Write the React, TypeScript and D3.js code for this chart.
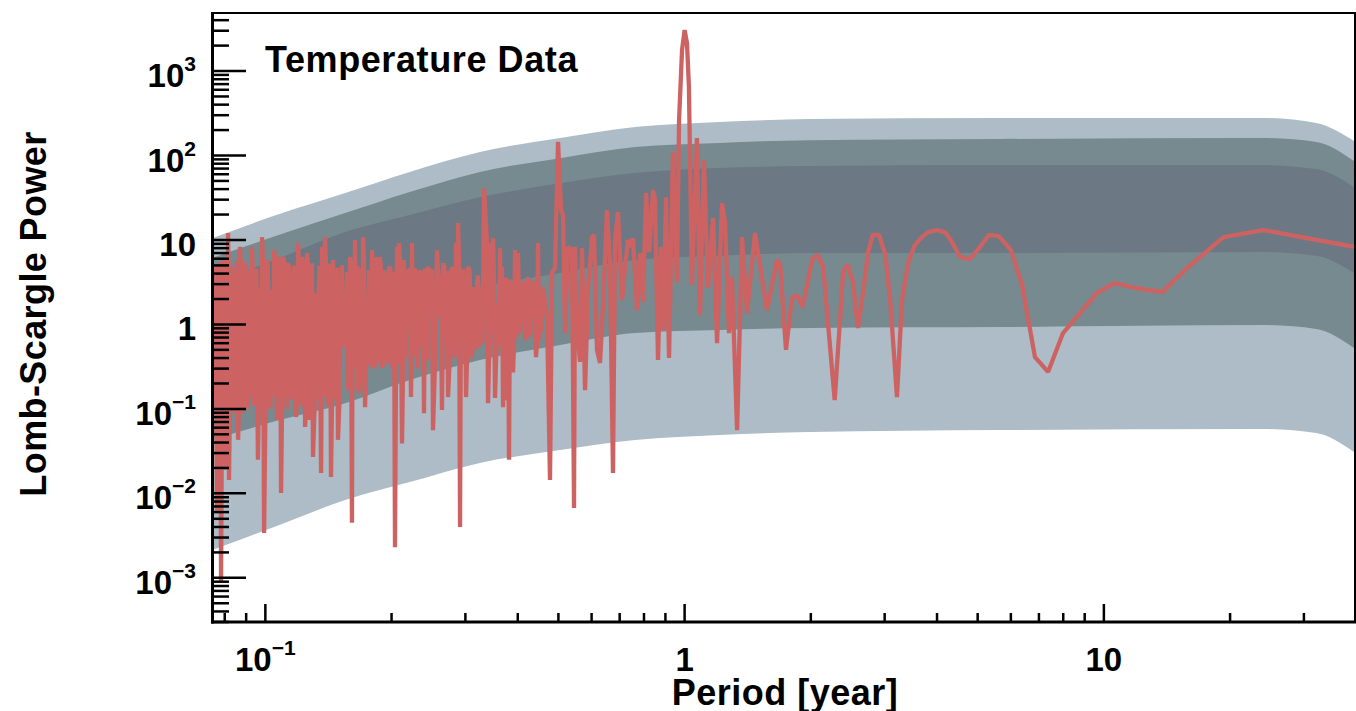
import React from 'react';
import * as d3 from 'd3';

// confidence bands of the simulated periodograms (period in years -> power)
const bandPeriods = [0.0746, 0.108, 0.155, 0.221, 0.325, 0.505, 0.762, 1.21, 1.99, 5.65, 23.9, 32.1, 39.5];
const outerUpper = [10.5, 20.3, 36, 64, 110, 161, 217, 249, 270, 278, 278, 243, 149];
const middleUpper = [6.1, 11.5, 20.8, 37, 64, 93, 126, 141, 152, 157, 161, 145, 86];
const innerUpper = [3.1, 6.1, 12.4, 19.7, 32, 47, 62, 71, 75, 77, 77, 69, 42];
const innerLower = [0.266, 0.526, 0.98, 1.7, 2.77, 4.06, 5.8, 6.5, 7.0, 7.0, 7.2, 6.5, 4.06];
const middleLower = [0.0428, 0.0738, 0.117, 0.22, 0.379, 0.57, 0.791, 0.859, 0.908, 0.931, 0.984, 0.883, 0.526];
const outerLower = [0.00213, 0.00422, 0.00834, 0.0136, 0.0229, 0.0326, 0.0428, 0.0491, 0.0532, 0.0562, 0.0578, 0.0518, 0.0308];

// measured periodogram: [period (year), Lomb-Scargle power]
const spectrum: [number, number][] = [
  [0.0746, 2.36], [0.075, 0.12], [0.0754, 2.55], [0.076, 5.1], [0.0767, 0.0059], [0.0771, 4.6],
  [0.0775, 0.54], [0.078, 5.4], [0.0784, 0.00089], [0.0788, 0.1], [0.0793, 5.8], [0.08, 4.8],
  [0.0806, 0.019], [0.081, 0.14], [0.0815, 12.1], [0.0817, 5.2], [0.0819, 0.0144], [0.0823, 0.11],
  [0.0828, 3.36], [0.0832, 4.9], [0.0837, 0.22], [0.0844, 0.09], [0.0851, 3.36], [0.0856, 5.6],
  [0.0861, 0.043], [0.0865, 0.13], [0.087, 8.3], [0.0875, 4.7], [0.088, 0.089], [0.0885, 0.12],
  [0.089, 5.3], [0.0897, 5.0], [0.0904, 0.31], [0.0909, 0.1], [0.0914, 4.4], [0.0921, 0.14],
  [0.0929, 8.3], [0.0932, 5.3], [0.0935, 0.31], [0.094, 0.11], [0.0945, 2.77], [0.0952, 4.6],
  [0.096, 0.025], [0.0965, 0.13], [0.0971, 2.77], [0.0976, 0.1], [0.0982, 10.8], [0.0987, 5.1],
  [0.0993, 0.0034], [0.1001, 0.12], [0.1009, 5.8], [0.1014, 4.8], [0.102, 0.46], [0.1028, 0.1],
  [0.1037, 2.55], [0.1043, 0.14], [0.1049, 7.6], [0.1057, 5.2], [0.1066, 0.074], [0.1072, 0.12],
  [0.1078, 6.3], [0.1084, 4.9], [0.109, 0.0101], [0.1096, 0.11], [0.1102, 6.3], [0.1111, 5.4],
  [0.112, 0.22], [0.1126, 0.1], [0.1132, 5.3], [0.1141, 4.7], [0.1151, 0.31], [0.1157, 0.13],
  [0.1164, 2.77], [0.1173, 5.0], [0.1183, 0.08], [0.119, 0.12], [0.1197, 9.2], [0.1203, 4.6],
  [0.121, 0.79], [0.1217, 0.11], [0.1224, 6.3], [0.1234, 5.1], [0.1244, 0.061], [0.1251, 0.14],
  [0.1258, 7.0], [0.1264, 4.8], [0.1271, 0.074], [0.1278, 0.12], [0.1285, 2.36], [0.1292, 5.3],
  [0.1299, 0.027], [0.131, 0.1], [0.1321, 2.36], [0.1328, 0.13], [0.1335, 1.61], [0.1346, 4.9],
  [0.1358, 0.0174], [0.1361, 0.12], [0.1365, 8.3], [0.1376, 0.14], [0.1388, 10.8], [0.1395, 5.0],
  [0.1403, 0.5], [0.1411, 0.11], [0.1419, 4.8], [0.1426, 5.2], [0.1434, 0.0156], [0.1442, 0.12],
  [0.145, 5.8], [0.1462, 0.13], [0.1474, 1.13], [0.1482, 4.7], [0.149, 0.043], [0.1502, 0.12],
  [0.1515, 2.55], [0.1523, 5.0], [0.1532, 0.54],
  [0.1558, 1.04], [0.1566, 4.2], [0.1575, 0.167], [0.1583, 0.3], [0.1592, 6.3], [0.16, 4.8],
  [0.1609, 0.0045], [0.1613, 0.35], [0.1618, 1.79], [0.1627, 0.4], [0.1636, 10.0], [0.1645, 0.3],
  [0.1654, 4.4], [0.1658, 5.0], [0.1663, 0.167], [0.1672, 4.6], [0.1682, 0.154], [0.1691, 0.35],
  [0.17, 4.4], [0.1705, 0.4], [0.171, 10.8], [0.1719, 5.2], [0.1729, 0.105], [0.1738, 0.3],
  [0.1748, 1.79], [0.1757, 0.38], [0.1767, 4.4], [0.1782, 0.32], [0.1797, 7.6], [0.1802, 4.5],
  [0.1807, 0.54], [0.1822, 0.3], [0.1837, 6.3], [0.1847, 0.42], [0.1857, 2.11], [0.1867, 0.36],
  [0.1877, 6.3], [0.1887, 4.4], [0.1898, 0.31], [0.1908, 0.33], [0.1919, 4.4], [0.1934, 0.4],
  [0.195, 4.1], [0.1961, 0.35], [0.1972, 4.8], [0.1988, 4.6], [0.2005, 0.71], [0.201, 0.3],
  [0.2016, 3.64], [0.2027, 4.2], [0.2038, 0.0023], [0.205, 0.38], [0.2061, 8.3], [0.2072, 0.34],
  [0.2083, 9.2], [0.21, 5.0], [0.2118, 0.039], [0.213, 0.3], [0.2141, 5.8], [0.2159, 0.4],
  [0.2177, 4.4], [0.2189, 4.3], [0.2201, 1.04], [0.2213, 4.7], [0.2225, 0.138], [0.2231, 0.36],
  [0.2238, 9.2], [0.225, 0.42], [0.2262, 4.4], [0.2281, 4.5], [0.23, 0.86], [0.2312, 0.3],
  [0.2325, 3.36], [0.2344, 4.4], [0.2364, 0.54], [0.2377, 4.1], [0.239, 0.089], [0.2403, 4.6],
  [0.2416, 1.04], [0.243, 0.38], [0.2443, 4.8], [0.2463, 4.2], [0.2484, 1.48], [0.2497, 4.5],
  [0.2511, 0.056], [0.2539, 0.34], [0.2567, 7.6], [0.2581, 4.4], [0.2596, 1.22], [0.2617, 4.0],
  [0.2638, 0.097], [0.2645, 0.4], [0.2653, 5.3], [0.2675, 4.6], [0.2698, 0.65], [0.2712, 4.3],
  [0.2727, 0.138], [0.275, 0.35], [0.2773, 4.1], [0.2788, 4.8], [0.2803, 1.22], [0.2826, 0.4],
  [0.285, 9.2], [0.2866, 0.45], [0.2882, 15.9], [0.2897, 5.0], [0.2913, 0.004], [0.2929, 4.2],
  [0.2945, 0.86], [0.2961, 4.5], [0.2978, 0.6], [0.2994, 4.0], [0.301, 0.138], [0.3027, 0.38],
  [0.3044, 4.8], [0.3069, 4.4], [0.3094, 1.22], [0.3111, 0.4], [0.3128, 2.77],
  [0.3163, 1.36], [0.318, 0.5], [0.3198, 3.18], [0.3215, 3.8], [0.3233, 0.65], [0.325, 0.55],
  [0.3268, 2.77], [0.3295, 0.6], [0.3323, 41], [0.3378, 9.2], [0.3397, 0.117], [0.3425, 0.7],
  [0.3453, 9.2], [0.3472, 0.8], [0.3492, 10.5], [0.3511, 3.5], [0.353, 0.135], [0.356, 0.6],
  [0.3589, 1.79], [0.3609, 0.55], [0.3629, 8.0], [0.3649, 0.7], [0.3669, 4.8], [0.3689, 0.105],
  [0.3709, 3.2], [0.3729, 1.13], [0.375, 3.6], [0.377, 0.127], [0.3791, 2.8], [0.3812, 0.025],
  [0.3833, 3.4], [0.3854, 0.93], [0.3876, 3.0], [0.3897, 0.27], [0.3918, 0.6], [0.394, 7.6],
  [0.3973, 0.7], [0.4006, 7.0], [0.4039, 0.8], [0.4072, 1.95], [0.4118, 3.2], [0.4163, 0.65],
  [0.4198, 2.9], [0.4232, 3.64], [0.4279, 0.7], [0.4325, 3.36], [0.4349, 2.11], [0.4385, 3.1],
  [0.4421, 0.41], [0.4446, 0.6], [0.447, 9.2], [0.4495, 0.65], [0.4519, 2.11], [0.4557, 0.8],
  [0.4595, 2.77],
  [0.4697, 1.22], [0.4775, 0.0144], [0.4828, 4.1], [0.4908, 4.7], [0.499, 145], [0.5073, 22.6],
  [0.5129, 19.7], [0.5186, 0.79], [0.5271, 8.3], [0.5389, 7.6], [0.5448, 0.0067], [0.5478, 8.3],
  [0.5539, 0.93], [0.563, 0.36], [0.5692, 8.0], [0.5787, 0.167], [0.5883, 2.55], [0.6014, 10.8],
  [0.608, 11.5], [0.618, 0.5], [0.6283, 0.35], [0.6387, 1.61], [0.6529, 22.6], [0.6638, 5.3],
  [0.6748, 0.0174], [0.6823, 10.0], [0.6937, 21.4], [0.7091, 1.95], [0.7208, 4.8], [0.7328, 10.0],
  [0.741, 8.3], [0.753, 10.5], [0.77, 1.48], [0.783, 7.0], [0.796, 1.84], [0.809, 36],
  [0.823, 7.2], [0.841, 39], [0.85, 29.7], [0.864, 0.38], [0.878, 8.3], [0.888, 0.86],
  [0.903, 32], [0.918, 0.4], [0.938, 110], [0.959, 3.18], [0.97, 263], [0.986, 1775],
  [1.0, 3060], [1.013, 2150], [1.024, 647], [1.041, 2.93], [1.07, 161], [1.088, 1.29],
  [1.112, 88], [1.137, 2.7], [1.169, 18.2], [1.195, 0.6], [1.228, 27.4], [1.249, 15.9],
  [1.276, 0.79], [1.297, 3.64], [1.334, 0.056], [1.371, 10.8], [1.409, 1.36], [1.472, 12.1],
  [1.572, 1.48], [1.661, 5.8], [1.689, 5.3], [1.745, 0.5], [1.804, 2.06], [1.854, 2.23],
  [1.91, 1.61], [2.02, 6.1], [2.08, 6.6], [2.14, 4.8], [2.28, 0.127], [2.39, 4.4],
  [2.45, 5.05], [2.52, 3.18], [2.59, 0.91], [2.65, 1.95], [2.74, 7.2], [2.81, 11.5],
  [2.91, 11.5], [3.01, 6.6], [3.09, 2.06], [3.21, 0.138], [3.3, 1.95], [3.41, 5.3],
  [3.54, 8.7], [3.68, 10.8], [3.81, 12.4], [4.0, 13.1], [4.18, 12.4], [4.34, 9.5],
  [4.54, 6.3], [4.79, 5.9], [5.07, 8.3], [5.32, 11.5], [5.62, 11.1], [6.0, 7.6],
  [6.38, 2.93], [6.85, 0.41], [7.36, 0.274], [7.99, 0.79], [9.63, 2.36], [10.6, 3.09],
  [11.9, 2.7], [13.8, 2.42], [15.8, 4.66], [19.3, 10.8], [24.0, 13.1], [39.5, 8.3],
];

const yMajorTicks = [1e-3, 1e-2, 1e-1, 1, 10, 1e2, 1e3];
const yTickLabels = ['10^−3', '10^−2', '10^−1', '1', '10', '10^2', '10^3'];
const xMajorTicks = [0.1, 1, 10];
const xTickLabels = ['10^−1', '1', '10'];

const W = 1356;
const H = 711;
const left = 212;
const right = 1354;
const top = 12;
const bottom = 622;
const FONT = '"Liberation Sans", Arial, Helvetica, sans-serif';

const Label = ({ text, x, y, anchor }: { text: string; x: number; y: number; anchor: string }) => {
  const [base, exp] = text.split('^');
  return (
    <text x={x} y={y} textAnchor={anchor} fontFamily={FONT} fontWeight="bold" fontSize={33} fill="#000">
      <tspan>{base}</tspan>
      {exp && (
        <tspan dy={-16} fontSize={21}>
          {exp}
        </tspan>
      )}
    </text>
  );
};

export default function App() {
  const x = d3.scaleLog().domain([0.0746, 39.5]).range([left, right]);
  const y = d3.scaleLog().domain([3e-4, 5e3]).range([bottom, top]);

  const band = (lo: number[], hi: number[]) =>
    d3
      .area<number>()
      .curve(d3.curveMonotoneX)
      .x((i) => x(bandPeriods[i]))
      .y0((i) => y(lo[i]))
      .y1((i) => y(hi[i]))(d3.range(bandPeriods.length)) || '';

  const line = d3
    .line<[number, number]>()
    .x((d) => x(d[0]))
    .y((d) => y(d[1]))(spectrum) || '';

  // minor ticks 2..9 in every decade inside the domain
  const minor = (sc: d3.ScaleLogarithmic<number, number>, from: number, to: number) => {
    const out: number[] = [];
    const [d0, d1] = sc.domain();
    for (let e = from; e <= to; e++) {
      for (let m = 2; m <= 9; m++) {
        const v = m * Math.pow(10, e);
        if (v > d0 && v < d1) out.push(v);
      }
    }
    return out;
  };
  const yMinor = minor(y, -4, 3);
  const xMinor = minor(x, -2, 1);

  return (
    <svg width={W} height={H} style={{ position: 'absolute', left: 0, top: 0, background: '#fff' }}>
      <defs>
        <clipPath id="plot">
          <rect x={left} y={top} width={right - left} height={bottom - top} />
        </clipPath>
      </defs>
      <g clipPath="url(#plot)">
        <path d={band(outerLower, outerUpper)} fill="#adbcc6" />
        <path d={band(middleLower, middleUpper)} fill="#768a8f" />
        <path d={band(innerLower, innerUpper)} fill="#6c7883" />
        <path d={line} fill="none" stroke="#cd6262" strokeWidth={4.3} strokeLinejoin="bevel" />
      </g>

      {/* frame */}
      <line x1={left} x2={right + 1} y1={top + 1} y2={top + 1} stroke="#000" strokeWidth={2} />
      <line x1={right + 1} x2={right + 1} y1={top} y2={bottom} stroke="#000" strokeWidth={2} />
      <line x1={left + 0.5} x2={left + 0.5} y1={top} y2={bottom + 1.5} stroke="#000" strokeWidth={3} />
      <line x1={left - 1} x2={right + 2} y1={bottom} y2={bottom} stroke="#000" strokeWidth={3} />

      {/* y ticks */}
      {yMajorTicks.map((v) => (
        <line key={'ym' + v} x1={left} x2={left + 34} y1={y(v)} y2={y(v)} stroke="#000" strokeWidth={2.5} />
      ))}
      {yMinor.map((v) => (
        <line key={'yn' + v} x1={left} x2={left + 17} y1={y(v)} y2={y(v)} stroke="#000" strokeWidth={2.5} />
      ))}
      {yMajorTicks.map((v, i) => (
        <Label key={'yl' + v} text={yTickLabels[i]} x={196} y={y(v) + 16} anchor="end" />
      ))}

      {/* x ticks */}
      {xMajorTicks.map((v) => (
        <line key={'xm' + v} x1={x(v)} x2={x(v)} y1={bottom} y2={bottom - 18} stroke="#000" strokeWidth={2.5} />
      ))}
      {xMinor.map((v) => (
        <line key={'xn' + v} x1={x(v)} x2={x(v)} y1={bottom} y2={bottom - 9} stroke="#000" strokeWidth={2.5} />
      ))}
      {xMajorTicks.map((v, i) => (
        <Label key={'xl' + v} text={xTickLabels[i]} x={x(v)} y={671} anchor="middle" />
      ))}

      <text x={265} y={72} fontFamily={FONT} fontWeight="bold" fontSize={36} letterSpacing={0.6}>
        Temperature Data
      </text>
      <text x={(left + right) / 2 + 2} y={705} textAnchor="middle" fontFamily={FONT} fontWeight="bold" fontSize={36} letterSpacing={0.5}>
        Period [year]
      </text>
      <text
        transform={`translate(46, ${(top + bottom) / 2 - 3}) rotate(-90)`}
        textAnchor="middle"
        fontFamily={FONT}
        fontWeight="bold"
        fontSize={36}
        letterSpacing={0.4}
      >
        Lomb-Scargle Power
      </text>
    </svg>
  );
}
